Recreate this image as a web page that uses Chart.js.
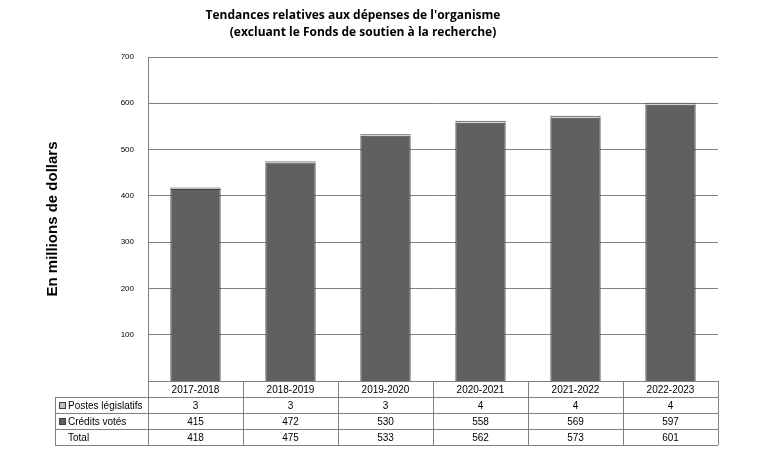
<!DOCTYPE html>
<html>
<head>
<meta charset="utf-8">
<script src="https://cdn.jsdelivr.net/npm/chart.js@4"></script>
<style>
  body { margin: 0; background: #fff; }
  #wrap { width: 766px; height: 459px; }
</style>
</head>
<body>
<div id="wrap"><canvas id="chart"></canvas></div>
<script>
const years = ['2017-2018', '2018-2019', '2019-2020', '2020-2021', '2021-2022', '2022-2023'];
const postes = [3, 3, 3, 4, 4, 4];
const credits = [415, 472, 530, 558, 569, 597];
const totals = [418, 475, 533, 562, 573, 601];
const yTicks = [100, 200, 300, 400, 500, 600, 700];

// title + data table under the plot
const tablePlugin = {
    id: 'table',
    afterDraw(chart) {
        const c = chart.ctx;
        const a = chart.chartArea;
        const xs = chart.scales.x;
        const half = (xs.getPixelForValue(1) - xs.getPixelForValue(0)) / 2;
        c.save();
        c.fillStyle = '#000';
        c.textAlign = 'center';
        c.font = 'bold 12px "Open Sans", sans-serif';
        c.fillText('Tendances relatives aux dépenses de l\'organisme', 353, 19);
        c.fillText('(excluant le Fonds de soutien à la recherche)', 363, 36);

        const rowH = 16;
        const top = a.bottom;
        const left = 55;
        const right = xs.getPixelForValue(years.length - 1) + half;
        c.strokeStyle = '#808080';
        c.lineWidth = 1;
        c.beginPath();
        for (let r = 0; r <= 4; r++) {
            const y = Math.round(top + r * rowH) + 0.5;
            c.moveTo(r === 0 ? a.left : left, y);
            c.lineTo(right, y);
        }
        c.moveTo(left + 0.5, top + rowH);
        c.lineTo(left + 0.5, top + 4 * rowH);
        for (let i = 0; i <= years.length; i++) {
            const x = Math.round(xs.getPixelForValue(i) - half) + 0.5;
            c.moveTo(x, top);
            c.lineTo(x, top + 4 * rowH);
        }
        c.stroke();

        c.font = '10px "Liberation Sans", Arial, sans-serif';
        c.textBaseline = 'middle';
        const rows = [years, postes, credits, totals];
        rows.forEach((row, r) => {
            row.forEach((v, i) => {
                c.fillText(String(v), xs.getPixelForValue(i), top + r * rowH + rowH / 2 + 1);
            });
        });
        c.textAlign = 'left';
        const labels = [['Postes législatifs', '#c0c0c0'], ['Crédits votés', '#606060'], ['Total', null]];
        labels.forEach(([t, col], k) => {
            const y = top + (k + 1) * rowH + rowH / 2;
            if (col) {
                c.fillStyle = col;
                c.fillRect(59, y - 3, 7, 7);
                c.strokeStyle = '#404040';
                c.strokeRect(59.5, y - 2.5, 6, 6);
            }
            c.fillStyle = '#000';
            c.fillText(t, col ? 68 : 68, y + 1);
        });
        c.restore();
    }
};

const ctx = document.getElementById('chart').getContext('2d');
const chart = new Chart(ctx, {
    type: 'bar',
    data: {
        labels: years,
        datasets: [{
            label: 'Crédits votés',
            backgroundColor: '#606060',
            borderColor: '#404040',
            borderWidth: 1,
            data: credits,
            barPercentage: 0.53,
            categoryPercentage: 1
        }, {
            label: 'Postes législatifs',
            backgroundColor: '#c0c0c0',
            borderColor: '#404040',
            borderWidth: 1,
            data: postes,
            barPercentage: 0.53,
            categoryPercentage: 1
        }]
    },
    options: {
        responsive: true,
        maintainAspectRatio: false,
        animation: false,
        layout: { padding: { top: 57, left: 40, right: 48, bottom: 78 } },
        plugins: { legend: { display: false }, tooltip: { enabled: false } },
        scales: {
            x: { stacked: true, display: false },
            y: {
                stacked: true,
                min: 0,
                max: 700,
                afterFit(s) { s.width = 108; },
                afterBuildTicks(s) { s.ticks = yTicks.map(v => ({ value: v })); },
                ticks: { color: '#000', font: { size: 8 }, padding: 14 },
                grid: { color: '#808080', drawTicks: false },
                border: { color: '#808080' },
                title: {
                    display: true,
                    text: 'En millions de dollars',
                    color: '#000',
                    font: { size: 15, weight: 'bold', family: 'Arial, "Liberation Sans", sans-serif' }
                }
            }
        }
    },
    plugins: [tablePlugin]
});
</script>
</body>
</html>
